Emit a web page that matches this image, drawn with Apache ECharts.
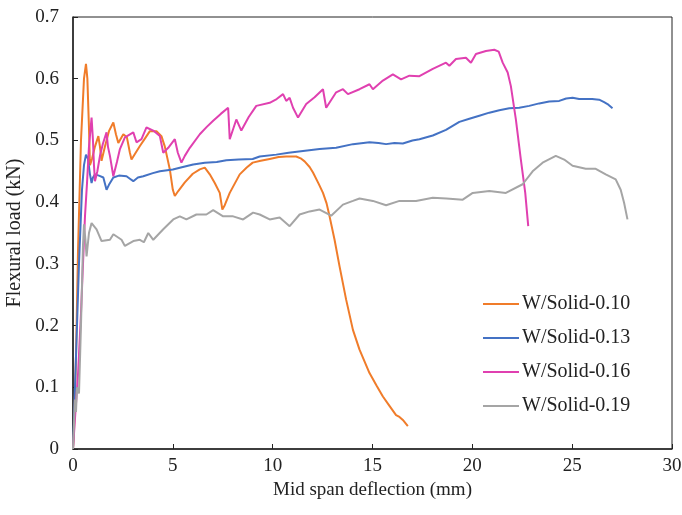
<!DOCTYPE html>
<html>
<head>
<meta charset="utf-8">
<script src="https://cdn.jsdelivr.net/npm/echarts@6/dist/echarts.min.js"></script>
<style>html,body{margin:0;padding:0;background:#fff}#c{width:682px;height:515px}</style>
</head>
<body>
<div id="c"></div>
<script>
const seriesNames = ['W/Solid-0.10','W/Solid-0.13','W/Solid-0.16','W/Solid-0.19'];
const xTicks = [0,5,10,15,20,25,30];
const yTicks = [0,0.1,0.2,0.3,0.4,0.5,0.6,0.7];

const ws010 = [[0,0],[0.05,0.03],[0.15,0.15],[0.25,0.32],[0.4,0.5],[0.55,0.6],[0.65,0.624],[0.72,0.6],[0.8,0.52],[0.85,0.46],[0.95,0.47],[1.1,0.49],[1.27,0.507],[1.35,0.49],[1.43,0.467],[1.6,0.49],[1.8,0.515],[2.02,0.529],[2.15,0.51],[2.27,0.496],[2.52,0.51],[2.7,0.505],[2.85,0.48],[2.93,0.469],[3.1,0.478],[3.35,0.491],[3.6,0.503],[3.85,0.515],[4.18,0.515],[4.43,0.507],[4.6,0.49],[4.85,0.453],[5.0,0.42],[5.1,0.41],[5.27,0.418],[5.6,0.432],[6.0,0.446],[6.35,0.453],[6.6,0.456],[6.85,0.445],[7.1,0.431],[7.35,0.415],[7.48,0.388],[7.6,0.395],[7.85,0.415],[8.35,0.445],[8.7,0.456],[9.0,0.464],[9.4,0.467],[9.85,0.470],[10.3,0.473],[10.68,0.474],[11.18,0.474],[11.4,0.471],[11.6,0.466],[11.85,0.457],[12.02,0.448],[12.3,0.43],[12.52,0.415],[12.7,0.398],[12.85,0.377],[13.1,0.339],[13.35,0.296],[13.68,0.242],[14.02,0.193],[14.35,0.161],[14.85,0.123],[15.2,0.103],[15.52,0.085],[15.85,0.07],[16.18,0.055],[16.35,0.052],[16.52,0.047],[16.77,0.037]];

const ws013 = [[0,0],[0.05,0.05],[0.15,0.15],[0.3,0.3],[0.45,0.42],[0.55,0.46],[0.65,0.477],[0.75,0.47],[0.85,0.445],[0.93,0.431],[1.0,0.44],[1.1,0.445],[1.3,0.443],[1.52,0.44],[1.68,0.42],[1.8,0.428],[2.02,0.44],[2.3,0.443],[2.68,0.442],[2.85,0.438],[3.02,0.434],[3.25,0.44],[3.52,0.442],[4.0,0.447],[4.35,0.45],[5.0,0.453],[5.5,0.457],[6.02,0.461],[6.6,0.464],[7.2,0.465],[7.68,0.468],[8.3,0.469],[9.0,0.47],[9.35,0.474],[10.18,0.477],[10.8,0.48],[11.52,0.483],[12.35,0.486],[13.18,0.488],[14.02,0.494],[14.85,0.497],[15.3,0.496],[15.68,0.494],[16.1,0.496],[16.52,0.495],[17.0,0.5],[17.35,0.502],[18.02,0.508],[18.68,0.517],[19.35,0.53],[19.85,0.535],[20.35,0.540],[20.85,0.545],[21.35,0.549],[21.85,0.552],[22.35,0.553],[22.85,0.556],[23.35,0.56],[23.85,0.563],[24.35,0.564],[24.7,0.568],[25.02,0.569],[25.35,0.567],[25.68,0.567],[26.0,0.567],[26.35,0.566],[26.6,0.562],[26.77,0.559],[27.02,0.552]];

const ws016 = [[0,0],[0.1,0.05],[0.25,0.12],[0.4,0.22],[0.5,0.3],[0.6,0.377],[0.7,0.43],[0.8,0.49],[0.93,0.537],[1.0,0.5],[1.05,0.46],[1.1,0.434],[1.22,0.45],[1.35,0.475],[1.5,0.495],[1.68,0.513],[1.75,0.49],[1.85,0.475],[2.02,0.442],[2.2,0.465],[2.35,0.486],[2.6,0.505],[3.02,0.513],[3.18,0.497],[3.43,0.502],[3.68,0.521],[4.02,0.516],[4.35,0.507],[4.52,0.480],[4.77,0.488],[5.1,0.502],[5.25,0.48],[5.43,0.464],[5.6,0.475],[5.85,0.488],[6.35,0.510],[6.7,0.522],[7.02,0.532],[7.4,0.543],[7.77,0.553],[7.85,0.502],[8.18,0.534],[8.43,0.516],[8.8,0.538],[9.18,0.556],[9.85,0.561],[10.2,0.567],[10.52,0.575],[10.68,0.564],[10.85,0.569],[11.02,0.553],[11.27,0.537],[11.68,0.559],[12.1,0.57],[12.52,0.583],[12.68,0.553],[13.18,0.578],[13.52,0.583],[13.77,0.575],[14.35,0.583],[14.85,0.591],[15.02,0.583],[15.52,0.597],[16.02,0.607],[16.43,0.599],[16.85,0.605],[17.35,0.604],[18.02,0.616],[18.68,0.626],[18.85,0.621],[19.18,0.632],[19.68,0.634],[19.93,0.626],[20.18,0.640],[20.68,0.645],[21.1,0.647],[21.32,0.644],[21.52,0.626],[21.77,0.61],[21.93,0.588],[22.18,0.534],[22.43,0.469],[22.65,0.415],[22.8,0.361]];

const ws019 = [[0,0],[0.05,0.04],[0.1,0.08],[0.15,0.06],[0.2,0.1],[0.3,0.09],[0.4,0.2],[0.5,0.33],[0.55,0.364],[0.62,0.34],[0.68,0.312],[0.8,0.35],[0.93,0.366],[1.18,0.356],[1.43,0.337],[1.85,0.339],[2.02,0.348],[2.43,0.339],[2.6,0.329],[3.02,0.337],[3.35,0.339],[3.55,0.335],[3.77,0.35],[4.02,0.339],[4.52,0.356],[5.02,0.372],[5.35,0.377],[5.68,0.372],[6.18,0.380],[6.68,0.38],[7.02,0.387],[7.52,0.377],[8.02,0.377],[8.52,0.372],[9.02,0.383],[9.35,0.380],[9.85,0.372],[10.35,0.375],[10.85,0.361],[11.35,0.380],[11.85,0.385],[12.35,0.388],[12.93,0.378],[13.52,0.396],[14.02,0.402],[14.35,0.406],[15.02,0.402],[15.68,0.395],[16.35,0.402],[17.18,0.402],[18.02,0.407],[18.7,0.406],[19.52,0.404],[20.02,0.415],[20.85,0.418],[21.68,0.415],[22.52,0.429],[23.02,0.450],[23.52,0.464],[24.18,0.475],[24.6,0.469],[25.02,0.459],[25.68,0.454],[26.18,0.454],[26.68,0.445],[27.18,0.437],[27.43,0.42],[27.6,0.399],[27.77,0.372]];

const allData = [ws010, ws013, ws016, ws019];
const colors = ['#F07C2A','#4472C4','#E040B0','#A5A5A5'];
const font = 'Liberation Serif';

const chart = echarts.init(document.getElementById('c'), null, {renderer:'canvas'});
chart.setOption({
  animation: false,
  backgroundColor: '#fff',
  grid: {left: 73, right: 10, top: 17, bottom: 66, outerBoundsMode: 'none', containLabel: false,
    show: true, borderColor: '#222', borderWidth: 1, backgroundColor: 'transparent'},
  legend: {
    orient: 'vertical', left: 478, top: 289, itemWidth: 36, itemHeight: 2, itemGap: 14,
    icon: 'rect',
    data: seriesNames,
    textStyle: {fontFamily: font, fontSize: 20, color: '#222', padding: [0,0,0,-2]}
  },
  xAxis: {
    type: 'value', min: xTicks[0], max: xTicks[xTicks.length-1], interval: 5,
    name: 'Mid span deflection (mm)', nameLocation: 'middle', nameGap: 31,
    nameTextStyle: {fontFamily: font, fontSize: 19, color: '#222'},
    axisLine: {show: true, lineStyle: {color: '#222', width: 1.5}},
    axisTick: {show: true, inside: true, length: 5, lineStyle: {color: '#222'}},
    axisLabel: {fontFamily: font, fontSize: 19, color: '#222', margin: 8},
    splitLine: {show: false}
  },
  yAxis: {
    type: 'value', min: yTicks[0], max: yTicks[yTicks.length-1], interval: 0.1,
    name: 'Flexural load (kN)', nameLocation: 'middle', nameGap: 47,
    nameTextStyle: {fontFamily: font, fontSize: 20, color: '#222'},
    axisLine: {show: true, lineStyle: {color: '#222', width: 1.5}},
    axisTick: {show: true, inside: true, length: 5, lineStyle: {color: '#222'}},
    axisLabel: {fontFamily: font, fontSize: 19, color: '#222', margin: 14,
      formatter: v => v === 0 ? '0' : v.toFixed(1)},
    splitLine: {show: false}
  },
  series: seriesNames.map((n, i) => ({
    name: n, type: 'line', data: allData[i], showSymbol: false, symbol: 'none',
    lineStyle: {color: colors[i], width: 2}, itemStyle: {color: colors[i]}
  }))
});
</script>
</body>
</html>
